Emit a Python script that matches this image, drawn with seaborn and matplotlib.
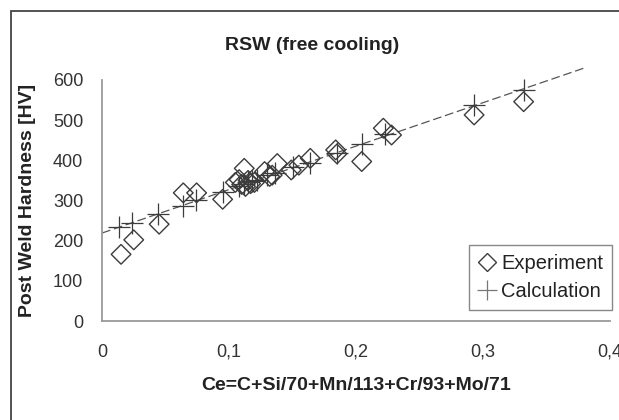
import matplotlib
matplotlib.use("Agg")
import matplotlib.pyplot as plt
import seaborn as sns
from matplotlib.lines import Line2D
from matplotlib.patches import Rectangle

# ---- data ----
exp_x = [0.015, 0.025, 0.045, 0.064, 0.0745, 0.095, 0.105, 0.108, 0.110, 0.112,
         0.113, 0.115, 0.117, 0.120, 0.128, 0.132, 0.134, 0.138, 0.149, 0.155,
         0.164, 0.184, 0.185, 0.2045, 0.2215, 0.228, 0.293, 0.332]
exp_y = [166, 202, 241, 319, 319, 303, 345, 352, 340, 380,
         335, 350, 342, 345, 372, 360, 363, 392, 376, 388,
         405, 426, 416, 397, 480, 463, 513, 546]

calc_x = [0.0136, 0.024, 0.0443, 0.064, 0.074, 0.0955, 0.108, 0.112, 0.115, 0.118,
          0.122, 0.1297, 0.136, 0.1506, 0.1638, 0.1848, 0.2045, 0.2228, 0.293, 0.332]
calc_y = [235, 243, 266, 286, 301, 322, 335, 340, 345, 348,
          352, 363, 368, 384, 393, 419, 440, 465, 538, 575]

trend_x = [0.0, 0.379]
trend_y = [219, 629]

x_ticks = [0.0, 0.1, 0.2, 0.3, 0.4]
x_tick_labels = ["0", "0,1", "0,2", "0,3", "0,4"]
y_ticks = [0, 100, 200, 300, 400, 500, 600]

title = "RSW (free cooling)"
x_label = "Ce=C+Si/70+Mn/113+Cr/93+Mo/71"
y_label = "Post Weld Hardness [HV]"
legend_labels = ["Experiment", "Calculation"]

# ---- style ----
sns.set_style("white")
plt.rcParams["font.family"] = ["Liberation Sans", "DejaVu Sans"]

W, H = 619, 420
fig = plt.figure(figsize=(W / 100, H / 100), dpi=100)
ax = fig.add_axes([102 / W, 1 - 321 / H, (610 - 102) / W, (321 - 80) / H])

mark_col = "#3c3c3c"

sns.lineplot(x=trend_x, y=trend_y, ax=ax, color="#555555", linewidth=0.9,
             linestyle=(0, (7, 3)), zorder=1, clip_on=False)
sns.scatterplot(x=exp_x, y=exp_y, ax=ax, marker="D", s=100, color=mark_col,
                facecolors="none", edgecolors=mark_col, linewidth=1.0,
                zorder=3, clip_on=False)
sns.scatterplot(x=calc_x, y=calc_y, ax=ax, marker="+", s=270, color=mark_col,
                linewidth=0.9, zorder=4, clip_on=False)

ax.set_xlim(0, 0.4)
ax.set_ylim(0, 600)
ax.set_xticks(x_ticks)
ax.set_xticklabels(x_tick_labels)
ax.set_yticks(y_ticks)
ax.set_xlabel("")
ax.set_ylabel("")

for side in ["top", "right"]:
    ax.spines[side].set_visible(False)
for side in ["left", "bottom"]:
    ax.spines[side].set_color("#9a9a9a")
    ax.spines[side].set_linewidth(1.3)

ax.tick_params(axis="both", direction="inout", length=9, width=1.1,
               color="#9a9a9a", labelsize=13, labelcolor="#333333")
ax.tick_params(axis="x", pad=12)
ax.tick_params(axis="y", pad=9)

handles = [
    Line2D([], [], marker="D", linestyle="none", markersize=9,
           markerfacecolor="none", markeredgecolor=mark_col, markeredgewidth=1.0),
    Line2D([], [], marker="+", linestyle="none", markersize=15,
           markeredgecolor="#777777", markeredgewidth=0.9),
]
leg = ax.legend(handles, legend_labels, loc="lower right",
                bbox_to_anchor=(1.004, 0.045), borderaxespad=0,
                fontsize=14.5, frameon=True, fancybox=False, framealpha=1,
                handlelength=0.9, handletextpad=0.25, labelspacing=0.45,
                borderpad=0.45)
leg.get_frame().set_edgecolor("#888888")
leg.get_frame().set_linewidth(1.0)
for t in leg.get_texts():
    t.set_color("#222222")

fig.text(312 / W, 1 - 45 / H, title, ha="center", va="center",
         fontsize=14, fontweight="bold", color="#222222")
fig.text(356 / W, 1 - 385 / H, x_label, ha="center", va="center",
         fontsize=14, fontweight="bold", color="#222222")
fig.text(28 / W, 1 - 200 / H, y_label, ha="center", va="center",
         rotation=90, fontsize=14, fontweight="bold", color="#222222")

fig.patches.append(Rectangle((11 / W, -0.5), 2.0, 0.5 + 1 - 11 / H,
                             transform=fig.transFigure, fill=False,
                             edgecolor="#444444", linewidth=1.3))

fig.savefig("out.png", dpi=100)
